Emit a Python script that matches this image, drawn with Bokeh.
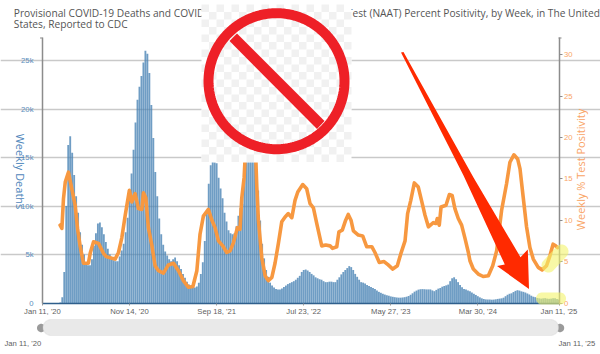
import numpy as np
from bokeh.plotting import figure
from bokeh.models import (Range1d, LinearAxis, FixedTicker, Label, PolyAnnotation, ColumnDataSource)
from bokeh.embed import file_html
from bokeh.resources import INLINE

# ---------- data ----------
tick_weeks = [0, 44, 88, 132, 176, 220, 261]
tick_labels = ["Jan 11, '20", "Nov 14, '20", "Sep 18, '21", "Jul 23, '22", "May 27, '23", "Mar 30, '24", "Jan 11, '25"]
weekly_deaths = [
    0, 0, 0, 0, 0, 0, 0, 0, 0, 60,
    600, 3200, 10000, 16300, 17200, 15500, 13200, 11000, 9300, 7300,
    6000, 5000, 4200, 3900, 3900, 4500, 5900, 7200, 8200, 8300,
    7800, 7100, 6300, 5600, 5000, 4700, 4400, 4300, 4300, 4800,
    5400, 6100, 7300, 8800, 10800, 13350, 15800, 18600, 20950, 22300,
    23400, 24800, 26000, 25700, 23700, 20400, 17000, 13500, 11000, 8700,
    7100, 6000, 5300, 4900, 4500, 4300, 4500, 4700, 4300, 3900,
    3500, 3000, 2600, 2200, 1900, 1700, 1600, 1600, 1700, 2100,
    3000, 4200, 6400, 9200, 12300, 14200, 14600, 14500, 14400, 12900,
    11800, 10800, 9300, 8400, 7500, 7200, 7100, 7200, 7900, 9000,
    9800, 10200, 13400, 15000, 18000, 21000, 23500, 24500, 24000, 11600,
    8500, 6100, 4600, 3400, 2700, 2100, 1800, 1600, 1450, 1400,
    1400, 1500, 1650, 1800, 1950, 2050, 2150, 2250, 2400, 2600,
    2800, 3200, 3400, 3450, 3350, 3200, 3000, 2850, 2650, 2550,
    2450, 2400, 2250, 2150, 2150, 2200, 2200, 2150, 2150, 2400,
    2650, 2950, 3200, 3400, 3600, 3800, 3700, 3400, 3000, 2700,
    2400, 2150, 2100, 2000, 1850, 1750, 1650, 1550, 1450, 1300,
    1150, 1050, 950, 870, 800, 750, 680, 640, 600, 570,
    550, 550, 570, 600, 650, 720, 850, 1000, 1170, 1280,
    1380, 1420, 1430, 1420, 1400, 1400, 1400, 1300, 1220, 1350,
    1480, 1550, 1680, 1750, 1820, 1900, 2250, 2550, 2650, 2450,
    2150, 1850, 1620, 1450, 1400, 1300, 1200, 1080, 950, 830,
    700, 580, 480, 410, 370, 360, 360, 340, 350, 380,
    420, 450, 480, 550, 700, 850, 950, 1000, 1130, 1250,
    1320, 1280, 1200, 1150, 1080, 980, 880, 750, 650, 600,
    520, 480, 450, 480, 500, 450, 430, 450, 500, 480,
    400, 350,
]
week_index = list(range(len(weekly_deaths)))
positivity_weeks = [
    8.9, 9.8, 10.6, 11.5, 13.1, 14.8, 16.5, 17.7, 19, 20.7, 23.2, 24.1, 25.8, 28.3, 30.8, 32.2, 35.1, 36.7, 38.4, 40.1,
    41.8, 43.9, 45.1, 46.8, 48.5, 50.2, 51, 52.2, 53.5, 55.3, 56.9, 58.6, 61.1, 63.6, 66.2, 68.7, 71.2, 73.7, 76, 78,
    79.6, 81.3, 83.8, 85.6, 87.2, 88.9, 91.1, 93.1, 94.8, 96.5, 98.5, 99.8, 100.7, 101.9, 102.9, 104.4, 105.4, 106.4, 107.4, 108.3,
    109.1, 110.8, 112.5, 114.1, 115.9, 117.5, 119.2, 120.9, 122.6, 124.2, 126, 127.6, 129, 131.5, 133.5, 135.2, 136.9, 138.6, 141.1, 143.1,
    145.3, 146.5, 148.7, 149.8, 151.5, 153.2, 154.5, 155.9, 157.1, 159.6, 161.8, 163.8, 166.4, 168, 170.2, 172.6, 174.7, 177, 179.3, 181,
    183.2, 184.5, 186.1, 187.9, 189.9, 191.6, 193.3, 195, 197.5, 198.8, 199.5, 200.5, 201.4, 203.9, 205.6, 207, 208.4, 210.1, 211.8, 213.5,
    215.2, 216, 217.7, 220.2, 222.7, 225.3, 227.5, 229.5, 232, 234.5, 236.2, 238.2, 240.1, 241.3, 242.9, 244.6, 246.3, 248, 250.5, 252.5,
    254.7, 256.4, 258, 259.3, 260.3,
]
positivity_values = [
    9.4, 9.0, 12.6, 14.6, 15.8, 13.8, 11.8, 9.0, 6.9, 4.8, 4.8, 6.0, 7.4, 7.2, 6.0, 5.6, 5.4, 5.3, 6.1, 7.9,
    10.6, 13.6, 12.2, 13.2, 11.4, 11.3, 13.3, 12.7, 9.1, 6.9, 4.5, 3.9, 3.6, 4.6, 4.8, 3.9, 2.7, 1.9, 2.0, 3.9,
    8.3, 10.5, 11.3, 10, 9.1, 7.5, 6.9, 6.1, 6.3, 7.3, 9.1, 8.9, 12.7, 15.2, 20, 27, 30, 28, 20, 14,
    10, 5.5, 3.3, 2.7, 3.1, 4.8, 7.2, 9.8, 10.4, 10.8, 10.3, 12.4, 13.4, 14.3, 13.8, 12, 11.5, 9.6, 6.9, 7,
    6.9, 6.6, 6.8, 8.6, 8.8, 10, 10.7, 10, 8.7, 8.2, 8.1, 6.8, 6.8, 6.1, 4.9, 5.0, 4.6, 4.1, 4.5, 5.9,
    7.5, 10.8, 12.4, 14.5, 14, 12.3, 10.6, 9.2, 9.7, 9.6, 10.2, 9.4, 11.6, 11.8, 13.1, 13, 11.4, 10.2, 9.4, 7.8,
    6.1, 5.1, 4.1, 3.5, 3.2, 3.3, 4.5, 6.3, 11.2, 14.4, 17, 17.9, 17.4, 16.2, 12.8, 9.2, 6.7, 5.3, 4.3, 4,
    4.5, 5.7, 7.1, 6.9, 6.7,
]
left_ticks = [0, 5000, 10000, 15000, 20000, 25000]
left_labels = ["0", "5k", "10k", "15k", "20k", "25k"]
right_ticks = [0, 5, 10, 15, 20, 25, 30]

TITLE_1 = "Provisional COVID-19 Deaths and COVID-19 Nucleic Acid Amplification Test (NAAT) Percent Positivity, by Week, in The United"
TITLE_2 = "States, Reported to CDC"

W, H = 600, 354
BLUE, BLUE_TXT, ORANGE, ORANGE_TXT = "#4682b4", "#5b8dbd", "#f79840", "#f9a466"
GREY_TXT, GRID = "#5f5f5f", "#c9c9c9"
TICK_SIZE = "7.7px"

# the plot frame fills the canvas; axes sit at fixed places inside it, so the decorations are not clipped
PX_WEEK = 516.5 / 261
PX_5K = 48.5
PX_5PCT = 41.4
LEFT, BASE = 42.0, 302.5
p = figure(width=W, height=H, output_backend="svg", toolbar_location=None,
           x_range=Range1d(-LEFT / PX_WEEK, (W - LEFT) / PX_WEEK),
           y_range=Range1d(-(H - BASE) / PX_5K * 5000, BASE / PX_5K * 5000),
           min_border_left=0, min_border_right=0, min_border_top=0, min_border_bottom=0,
           background_fill_color="white", border_fill_color="white", outline_line_color=None)
p.extra_y_ranges = {"pct": Range1d(-(H - BASE) / PX_5PCT * 5, BASE / PX_5PCT * 5)}

p.xgrid.visible = False
p.ygrid.ticker = FixedTicker(ticks=left_ticks[1:])
p.ygrid.grid_line_color = GRID
p.ygrid.grid_line_width = 1.5
p.ygrid.bounds = (0, 261)

src = ColumnDataSource(dict(week=week_index, deaths=weekly_deaths))
p.vbar(x="week", top="deaths", width=0.94, source=src, fill_color=BLUE, fill_alpha=0.78, line_color=None)
p.line(positivity_weeks, positivity_values, y_range_name="pct", line_color=ORANGE, line_width=3.6,
       line_join="round", line_cap="round")

xa = p.xaxis[0]
xa.fixed_location = 0
xa.bounds = (0, 261)
xa.ticker = FixedTicker(ticks=tick_weeks)
xa.major_label_overrides = dict(zip(tick_weeks, tick_labels))
xa.major_label_text_font = "Liberation Sans"
xa.major_label_text_font_size = TICK_SIZE
xa.major_label_text_color = GREY_TXT
xa.major_label_standoff = 2
xa.axis_line_color = "#2f5f8c"
xa.axis_line_width = 1.5
xa.major_tick_line_color = "#999999"
xa.major_tick_out = 2
xa.major_tick_in = 0
xa.minor_tick_line_color = None

ya = p.yaxis[0]
ya.fixed_location = 0
ya.bounds = (0, 27370)
ya.ticker = FixedTicker(ticks=left_ticks)
ya.major_label_overrides = dict(zip(left_ticks, left_labels))
ya.major_label_text_font = "Liberation Sans"
ya.major_label_text_font_size = TICK_SIZE
ya.major_label_text_color = BLUE_TXT
ya.major_label_standoff = 3
ya.axis_line_color = "#8c8c8c"
ya.axis_line_width = 1.5
ya.major_tick_line_color = None
ya.minor_tick_line_color = None

ra = LinearAxis(y_range_name="pct", ticker=FixedTicker(ticks=right_ticks), fixed_location=261, bounds=(0, 32.07))
ra.major_label_text_font = "Liberation Sans"
ra.major_label_text_font_size = TICK_SIZE
ra.major_label_text_color = ORANGE_TXT
ra.major_label_standoff = 2
ra.axis_line_color = "#8c8c8c"
ra.axis_line_width = 1.5
ra.major_tick_line_color = "#8c8c8c"
ra.major_tick_out = 3
ra.major_tick_in = 0
ra.minor_tick_line_color = None
p.add_layout(ra, "right")


# ---------- decorations in picture pixels (canvas units, top-down) ----------
def poly(px, py, **kw):
    kw.setdefault("line_color", None)
    kw.setdefault("level", "overlay")
    p.add_layout(PolyAnnotation(xs=list(px), ys=list(py), xs_units="canvas", ys_units="canvas", **kw))


def stadium(x0, y0, x1, y1, r, **kw):
    a = np.arctan2(y1 - y0, x1 - x0)
    t1 = np.linspace(a + np.pi / 2, a + 3 * np.pi / 2, 24)
    t2 = np.linspace(a - np.pi / 2, a + np.pi / 2, 24)
    xs = list(x0 + r * np.cos(t1)) + list(x1 + r * np.cos(t2))
    ys = list(y0 + r * np.sin(t1)) + list(y1 + r * np.sin(t2))
    poly([float(v) for v in xs], [float(v) for v in ys], **kw)


def page_label(text, x, y, size, color, font="Open Sans", angle=0.0, align="left"):
    p.add_layout(Label(x=x, y=y, x_units="canvas", y_units="canvas", text=text, text_font=font,
                       text_font_size=size, text_color=color, text_baseline="middle", text_align=align,
                       angle=angle, level="annotation"))


# title (partly covered by the sign, as in the reference)
page_label(TITLE_1, 13.3, 12.7, "10.2px", "#555555")
page_label(TITLE_2, 13.3, 23.3, "10.2px", "#555555")

# axis titles
page_label("Weekly Deaths", 20, 171, "11px", "#4f86bb", angle=-np.pi / 2, align="center")
page_label("Weekly % Test Positivity", 580, 169, "11px", ORANGE_TXT, angle=np.pi / 2, align="center")

# short stubs at the top of both axes
poly([39.5, 42, 42, 39.5], [37, 37, 38, 38], fill_color="#8c8c8c", fill_alpha=1)
poly([558, 561, 561, 558], [37, 37, 38, 38], fill_color="#8c8c8c", fill_alpha=1)

# range slider under the plot
stadium(40.7, 327.5, 40.7, 327.5, 4.2, fill_color="#9a9a9a", fill_alpha=1)
stadium(559.5, 327.5, 559.5, 327.5, 4.2, fill_color="#9a9a9a", fill_alpha=1)
stadium(50.5, 327, 550, 327, 8, fill_color="#e9e9e9", fill_alpha=1, line_color="#cfcfcf", line_width=1.2)
page_label("Jan 11, '20", 4, 343.3, TICK_SIZE, GREY_TXT, "Liberation Sans")
page_label("Jan 11, '25", 558, 343.3, TICK_SIZE, GREY_TXT, "Liberation Sans")

# yellow highlights
YEL = dict(fill_color="#f3f36a", fill_alpha=0.6)
stadium(548, 265, 561, 251, 7, **YEL)
stadium(541.5, 298, 559.5, 298, 6, **YEL)

# no-entry sign on a checker image
BX0, BX1, BY0, BY1 = 201, 351, 4, 162
poly([BX0, BX1, BX1, BX0], [BY0, BY0, BY1, BY1], fill_color="white", fill_alpha=1)
cell = 7.5
for i in range(int((BX1 - BX0) / cell)):
    for j in range(int((BY1 - BY0) / cell)):
        if (i + j) % 2 == 0:
            x0, y0 = BX0 + i * cell, BY0 + j * cell
            poly([x0, x0 + cell, x0 + cell, x0], [y0, y0, y0 + cell, y0 + cell], fill_color="#f1f1f1", fill_alpha=1)
ang = np.linspace(0, 2 * np.pi, 181)
poly([float(v) for v in 276 + 68 * np.cos(ang)], [float(v) for v in 80.7 + 68 * np.sin(ang)],
     fill_alpha=0, line_color="#ee2027", line_width=10, line_alpha=1)
poly([229, 236.5, 324, 316.5], [40.5, 33, 120.5, 128.5], fill_color="#ee2027", fill_alpha=1)

# big red arrow
poly([400.5, 403, 473, 520, 527.3, 528.5, 496.5, 504.3, 463],
     [52, 51.5, 177, 256.7, 249, 288.5, 265.5, 264, 175],
     fill_color="#ff2a00", fill_alpha=1)

open("out.html", "w").write(file_html(p, INLINE))
